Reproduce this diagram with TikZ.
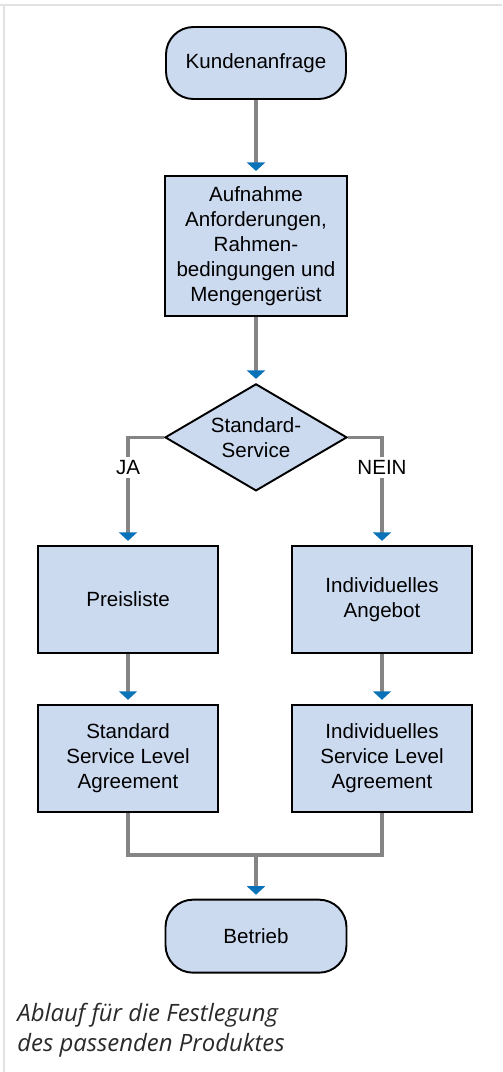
\documentclass[tikz,border=0pt]{standalone}
\usepackage{fontspec}
\setmainfont{Liberation Sans}
\newfontfamily\captionfont{Open Sans}
\usepackage{tikz}
\usetikzlibrary{positioning,calc,arrows.meta,shapes.geometric}
\definecolor{boxfill}{HTML}{CCDAF0}
\definecolor{tipblue}{HTML}{0A72B8}
\definecolor{flowgray}{HTML}{858585}
\definecolor{framegray}{HTML}{E2E2E2}
\definecolor{captiongray}{HTML}{2A2A2A}

\begin{document}
\begin{tikzpicture}[font=\fontsize{11.7}{14.2}\selectfont,
    block/.style={rectangle,draw=black,line width=1.1pt,fill=boxfill,align=center,inner sep=2pt},
    terminal/.style={block,rounded corners=0.55cm},
    decision/.style={diamond,draw=black,line width=1.1pt,fill=boxfill,align=center,aspect=1.7,inner sep=0pt},
    edge/.style={flowgray,line width=2.1pt,-{Triangle[width=0.36cm,length=0.17cm,color=tipblue]},shorten >=0.08cm},
    plain/.style={flowgray,line width=2.1pt}]

    %--------------------------------------------
    % Frame
    \useasboundingbox (0,0) rectangle (10.04,-21.44);
    \draw[framegray,line width=0.05cm] (0,-0.1) -- (10.04,-0.1);
    \draw[framegray,line width=0.05cm] (0.08,-0.1) -- (0.08,-21.44);

    %--------------------------------------------
    % Nodes
    \node[terminal,minimum width=3.6cm,minimum height=1.44cm] (start) at (5.12,-1.26) {Kundenanfrage};

    \node[block,below=1.5cm of start,minimum width=3.64cm,minimum height=2.8cm] (collect)
        {Aufnahme\\Anforderungen,\\Rahmen-\\bedingungen und\\Mengengerüst};

    \node[decision,below=1.32cm of collect,minimum width=3.64cm,minimum height=2.14cm] (decide)
        {Standard-\\Service};

    \node[block,below=1.06cm of decide,xshift=-2.56cm,minimum width=3.6cm,minimum height=2.14cm] (price) {Preisliste};

    \node[block,below=1.06cm of decide,xshift=2.52cm,minimum width=3.6cm,minimum height=2.14cm] (offer)
        {Individuelles\\Angebot};

    \node[block,below=1.0cm of price,minimum width=3.6cm,minimum height=2.14cm] (slastd)
        {Standard\\Service Level\\Agreement};

    \node[block,below=1.0cm of offer,minimum width=3.6cm,minimum height=2.14cm] (slaind)
        {Individuelles\\Service Level\\Agreement};

    \node[terminal,below=1.72cm of slastd.south -| decide,minimum width=3.62cm,minimum height=1.46cm] (run) {Betrieb};

    \coordinate (merge) at ($(slastd.south)+(0,-0.84)$);

    %--------------------------------------------
    % Caption
    \node[anchor=north west,align=left,inner sep=0pt,text=captiongray,
        font=\captionfont\itshape\fontsize{13.6}{17.2}\selectfont] (caption) at (0.34,-20.05)
        {Ablauf für die Festlegung\\des passenden Produktes};

    %--------------------------------------------
    % Edges
    \draw[edge] (start) -- (collect);
    \draw[edge] (collect) -- (decide);
    \draw[edge] (decide.west) -| node[pos=0.64,fill=white,text=black,inner sep=2pt] (yes) {JA} (price.north);
    \draw[edge] (decide.east) -| node[pos=0.64,fill=white,text=black,inner sep=2pt] (no) {NEIN} (offer.north);
    \draw[edge] (price) -- (slastd);
    \draw[edge] (offer) -- (slaind);

    \draw[plain] (slastd.south) |- (merge -| slaind.south) -- (slaind.south);
    \draw[edge] (merge -| run.north) -- (run);
\end{tikzpicture}
\end{document}
